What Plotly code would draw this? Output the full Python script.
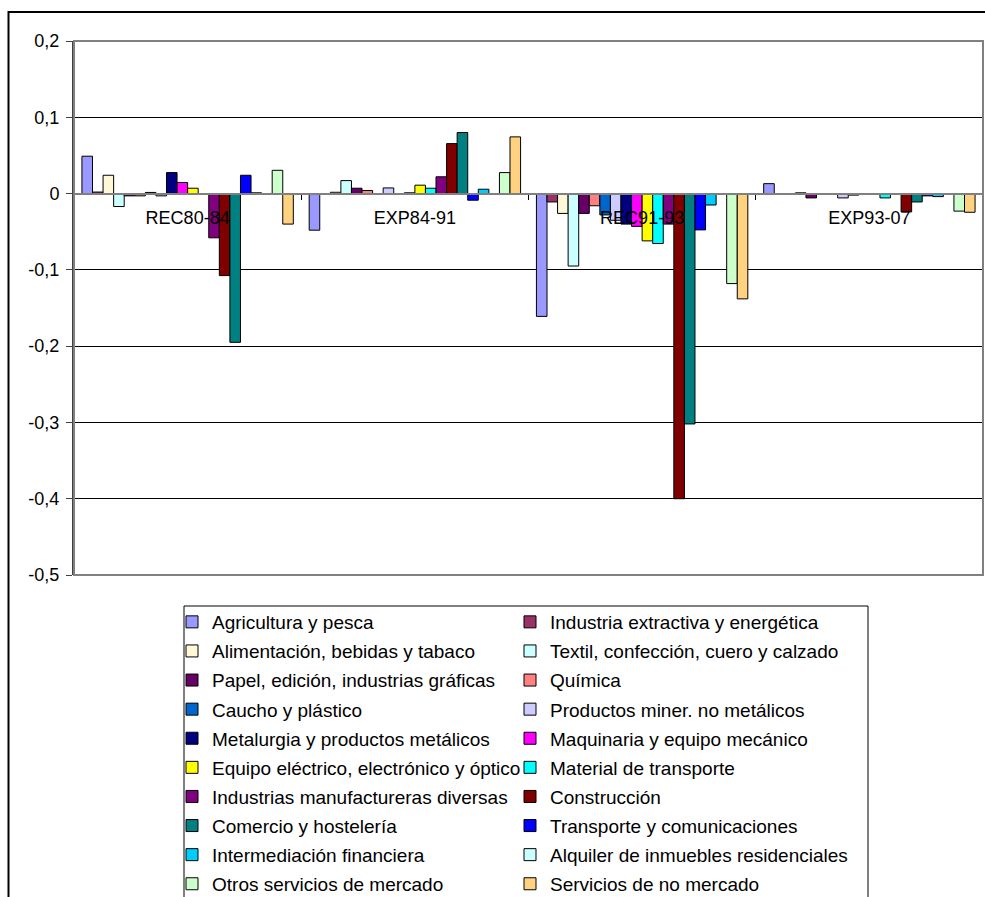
import plotly.graph_objects as go

# Periods (categories on the x axis)
periods = ["REC80-84", "EXP84-91", "REC91-93", "EXP93-07"]

# Sectors, in legend order
sectors = [
    "Agricultura y pesca",
    "Industria extractiva y energética",
    "Alimentación, bebidas y tabaco",
    "Textil, confección, cuero y calzado",
    "Papel, edición, industrias gráficas",
    "Química",
    "Caucho y plástico",
    "Productos miner. no metálicos",
    "Metalurgia y productos metálicos",
    "Maquinaria y equipo mecánico",
    "Equipo eléctrico, electrónico y óptico",
    "Material de transporte",
    "Industrias manufactureras diversas",
    "Construcción",
    "Comercio y hostelería",
    "Transporte y comunicaciones",
    "Intermediación financiera",
    "Alquiler de inmuebles residenciales",
    "Otros servicios de mercado",
    "Servicios de no mercado",
]

colors = [
    "#9999FF", "#993366", "#FFF8D8", "#CCFFFF", "#660066",
    "#FF8080", "#0066CC", "#CCCCFF", "#000080", "#FF00FF",
    "#FFFF00", "#00FFFF", "#800080", "#800000", "#008080",
    "#0000FF", "#00CCFF", "#CCFFFF", "#CCFFCC", "#FFD280",
]

# One list per period, values in sector order
rec80_84 = [0.049, 0.002, 0.024, -0.017, -0.003, -0.003, 0.0015, -0.003, 0.0275, 0.0145,
            0.007, -0.001, -0.058, -0.1075, -0.195, 0.024, 0.001, 0.0, 0.0305, -0.040]
exp84_91 = [-0.048, 0.0, 0.0017, 0.017, 0.007, 0.004, 0.0, 0.0074, 0.0, 0.001,
            0.011, 0.007, 0.022, 0.0655, 0.080, -0.0087, 0.0057, 0.0, 0.0275, 0.0743]
rec91_93 = [-0.161, -0.011, -0.026, -0.095, -0.026, -0.016, -0.028, -0.035, -0.040, -0.043,
            -0.062, -0.0655, -0.040, -0.400, -0.302, -0.0476, -0.015, 0.0, -0.118, -0.138]
exp93_07 = [0.013, 0.0, 0.0, 0.001, -0.0057, 0.0, 0.0, -0.0057, -0.002, 0.0,
            -0.001, -0.0057, 0.0, -0.024, -0.011, -0.003, -0.004, 0.0, -0.023, -0.0245]

by_period = [rec80_84, exp84_91, rec91_93, exp93_07]

# Value axis ticks and their labels
y_ticks = [0.2, 0.1, 0.0, -0.1, -0.2, -0.3, -0.4, -0.5]
y_tick_labels = ["0,2", "0,1", "0", "-0,1", "-0,2", "-0,3", "-0,4", "-0,5"]

W, H = 985, 897
L, R, T, B = 74, 2, 41, 322
plot_w = W - L - R
plot_h = H - T - B


def px_x(p):
    return (p - L) / plot_w


def px_y(p):
    return (H - B - p) / plot_h


FONT = "Liberation Sans, Arial, sans-serif"

fig = go.Figure()
for i, name in enumerate(sectors):
    fig.add_trace(go.Bar(
        x=periods,
        y=[vals[i] for vals in by_period],
        name=name,
        marker=dict(color=colors[i], line=dict(color="#000000", width=1)),
        legend="legend" if i % 2 == 0 else "legend2",
        legendgroup=f"g{i}",
    ))

# y=0 in paper coordinates, used to place the category axis
zero_pos = (0 - (-0.5)) / (0.2 - (-0.5))

legend_common = dict(
    orientation="v",
    yanchor="top",
    xanchor="left",
    y=px_y(603),
    bgcolor="rgba(0,0,0,0)",
    borderwidth=0,
    font=dict(family=FONT, size=19, color="#000000"),
    tracegroupgap=1.4,
    itemwidth=30,
    traceorder="grouped",
)

fig.update_layout(
    width=W, height=H,
    margin=dict(l=L, r=R, t=T, b=B, autoexpand=False),
    paper_bgcolor="#FFFFFF",
    plot_bgcolor="#FFFFFF",
    barmode="group",
    bargap=1.5 / 21.5,
    bargroupgap=0,
    font=dict(family=FONT, size=18, color="#000000"),
    xaxis=dict(
        type="category",
        anchor="free",
        position=zero_pos,
        showline=True,
        linecolor="#808080",
        linewidth=2,
        ticks="outside",
        tickson="boundaries",
        ticklen=5,
        tickcolor="#000000",
        tickwidth=1,
        ticklabelstandoff=8,
        showgrid=False,
        automargin=False,
        tickfont=dict(family=FONT, size=18, color="#000000"),
    ),
    yaxis=dict(
        range=[-0.5, 0.2],
        tickmode="array",
        tickvals=y_ticks,
        ticktext=y_tick_labels,
        showgrid=True,
        gridcolor="#000000",
        gridwidth=1,
        zeroline=False,
        showline=True,
        linecolor="#404040",
        linewidth=2,
        ticks="outside",
        ticklen=6,
        tickcolor="#404040",
        ticklabelstandoff=3,
        automargin=False,
        tickfont=dict(family=FONT, size=18, color="#000000"),
    ),
    legend=dict(x=px_x(172), **legend_common),
    legend2=dict(x=px_x(510), **legend_common),
    showlegend=True,
)

# Plot-area frame (top, right, bottom edges in grey)
fig.add_shape(type="rect", xref="paper", yref="paper", x0=0, x1=1, y0=0, y1=1,
              line=dict(color="#808080", width=2), fillcolor="rgba(0,0,0,0)", layer="above")
# Box around the two legend columns
fig.add_shape(type="rect", xref="paper", yref="paper",
              x0=px_x(184), x1=px_x(868), y0=px_y(606), y1=px_y(910),
              line=dict(color="#000000", width=1), fillcolor="rgba(0,0,0,0)")
# Outer chart border
fig.add_shape(type="rect", xref="paper", yref="paper",
              x0=px_x(8.5), x1=px_x(995), y0=px_y(12), y1=px_y(910),
              line=dict(color="#000000", width=2), fillcolor="rgba(0,0,0,0)")

fig.write_html("out.html")
